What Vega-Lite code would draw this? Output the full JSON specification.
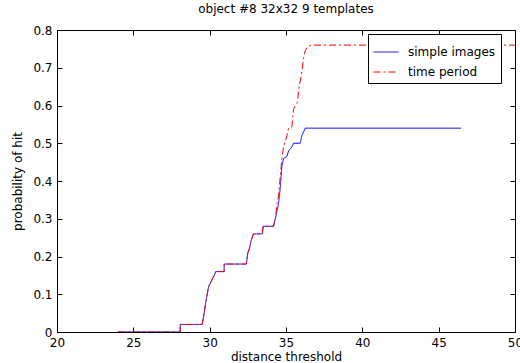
{
  "$schema": "https://vega.github.io/schema/vega-lite/v6.json",
  "width": 458,
  "height": 302,
  "autosize": {"type": "none"},
  "padding": {"left": 57, "top": 30, "right": 5, "bottom": 31},
  "background": "white",
  "title": {"text": "object #8 32x32 9 templates", "fontSize": 12, "fontWeight": "normal", "font": "DejaVu Sans", "offset": 8, "color": "#000"},
  "data": {"values": [
    {"s": "simple images", "i": 1, "x": 24.0, "y": 0},
    {"s": "simple images", "i": 2, "x": 28.07, "y": 0},
    {"s": "simple images", "i": 3, "x": 28.07, "y": 0.02},
    {"s": "simple images", "i": 4, "x": 29.5, "y": 0.02},
    {"s": "simple images", "i": 5, "x": 29.6, "y": 0.04},
    {"s": "simple images", "i": 6, "x": 29.75, "y": 0.08},
    {"s": "simple images", "i": 7, "x": 29.93, "y": 0.12},
    {"s": "simple images", "i": 8, "x": 30.05, "y": 0.13},
    {"s": "simple images", "i": 9, "x": 30.17, "y": 0.14},
    {"s": "simple images", "i": 10, "x": 30.3, "y": 0.15},
    {"s": "simple images", "i": 11, "x": 30.4, "y": 0.16},
    {"s": "simple images", "i": 12, "x": 30.95, "y": 0.16},
    {"s": "simple images", "i": 13, "x": 30.95, "y": 0.18},
    {"s": "simple images", "i": 14, "x": 32.4, "y": 0.18},
    {"s": "simple images", "i": 15, "x": 32.5, "y": 0.21},
    {"s": "simple images", "i": 16, "x": 32.6, "y": 0.22},
    {"s": "simple images", "i": 17, "x": 32.7, "y": 0.24},
    {"s": "simple images", "i": 18, "x": 32.87, "y": 0.26},
    {"s": "simple images", "i": 19, "x": 33.45, "y": 0.26},
    {"s": "simple images", "i": 20, "x": 33.5, "y": 0.28},
    {"s": "simple images", "i": 21, "x": 34.18, "y": 0.28},
    {"s": "simple images", "i": 22, "x": 34.3, "y": 0.30},
    {"s": "simple images", "i": 23, "x": 34.41, "y": 0.32},
    {"s": "simple images", "i": 24, "x": 34.51, "y": 0.34},
    {"s": "simple images", "i": 25, "x": 34.62, "y": 0.38},
    {"s": "simple images", "i": 26, "x": 34.73, "y": 0.44},
    {"s": "simple images", "i": 27, "x": 34.84, "y": 0.46},
    {"s": "simple images", "i": 28, "x": 35.06, "y": 0.465},
    {"s": "simple images", "i": 29, "x": 35.17, "y": 0.48},
    {"s": "simple images", "i": 30, "x": 35.39, "y": 0.49},
    {"s": "simple images", "i": 31, "x": 35.49, "y": 0.50},
    {"s": "simple images", "i": 32, "x": 35.93, "y": 0.50},
    {"s": "simple images", "i": 33, "x": 36.04, "y": 0.52},
    {"s": "simple images", "i": 34, "x": 36.26, "y": 0.54},
    {"s": "simple images", "i": 35, "x": 46.46, "y": 0.54},
    {"s": "time period", "i": 1, "x": 24.0, "y": 0},
    {"s": "time period", "i": 2, "x": 28.07, "y": 0},
    {"s": "time period", "i": 3, "x": 28.07, "y": 0.02},
    {"s": "time period", "i": 4, "x": 29.5, "y": 0.02},
    {"s": "time period", "i": 5, "x": 29.6, "y": 0.04},
    {"s": "time period", "i": 6, "x": 29.75, "y": 0.08},
    {"s": "time period", "i": 7, "x": 29.93, "y": 0.12},
    {"s": "time period", "i": 8, "x": 30.05, "y": 0.13},
    {"s": "time period", "i": 9, "x": 30.17, "y": 0.14},
    {"s": "time period", "i": 10, "x": 30.3, "y": 0.15},
    {"s": "time period", "i": 11, "x": 30.4, "y": 0.16},
    {"s": "time period", "i": 12, "x": 30.95, "y": 0.16},
    {"s": "time period", "i": 13, "x": 30.95, "y": 0.18},
    {"s": "time period", "i": 14, "x": 32.4, "y": 0.18},
    {"s": "time period", "i": 15, "x": 32.5, "y": 0.21},
    {"s": "time period", "i": 16, "x": 32.6, "y": 0.22},
    {"s": "time period", "i": 17, "x": 32.7, "y": 0.24},
    {"s": "time period", "i": 18, "x": 32.87, "y": 0.26},
    {"s": "time period", "i": 19, "x": 33.45, "y": 0.26},
    {"s": "time period", "i": 20, "x": 33.5, "y": 0.28},
    {"s": "time period", "i": 21, "x": 34.18, "y": 0.28},
    {"s": "time period", "i": 22, "x": 34.3, "y": 0.30},
    {"s": "time period", "i": 23, "x": 34.41, "y": 0.34},
    {"s": "time period", "i": 24, "x": 34.51, "y": 0.36},
    {"s": "time period", "i": 25, "x": 34.62, "y": 0.41},
    {"s": "time period", "i": 26, "x": 34.73, "y": 0.46},
    {"s": "time period", "i": 27, "x": 34.84, "y": 0.49},
    {"s": "time period", "i": 28, "x": 35.06, "y": 0.52},
    {"s": "time period", "i": 29, "x": 35.17, "y": 0.54},
    {"s": "time period", "i": 30, "x": 35.39, "y": 0.544},
    {"s": "time period", "i": 31, "x": 35.49, "y": 0.59},
    {"s": "time period", "i": 32, "x": 35.76, "y": 0.61},
    {"s": "time period", "i": 33, "x": 35.82, "y": 0.64},
    {"s": "time period", "i": 34, "x": 36.04, "y": 0.69},
    {"s": "time period", "i": 35, "x": 36.15, "y": 0.725},
    {"s": "time period", "i": 36, "x": 36.26, "y": 0.745},
    {"s": "time period", "i": 37, "x": 36.41, "y": 0.756},
    {"s": "time period", "i": 38, "x": 36.7, "y": 0.76},
    {"s": "time period", "i": 39, "x": 50, "y": 0.76}
  ]},
  "layer": [
    {
      "mark": {"type": "line", "strokeWidth": 1, "clip": true},
      "encoding": {
        "x": {"field": "x", "type": "quantitative",
          "scale": {"domain": [20, 50], "nice": false, "zero": false},
          "axis": {"orient": "bottom", "values": [20, 25, 30, 35, 40, 45, 50], "title": "distance threshold", "titlePadding": 3}},
        "y": {"field": "y", "type": "quantitative",
          "scale": {"domain": [0, 0.8], "nice": false},
          "axis": {"orient": "left", "values": [0, 0.1, 0.2, 0.3, 0.4, 0.5, 0.6, 0.7, 0.8], "title": "probability of hit", "titlePadding": 8,
            "labelExpr": "datum.value == 0 ? '0' : format(datum.value, '.1f')"}},
        "color": {"field": "s", "type": "nominal",
          "scale": {"domain": ["simple images", "time period"], "range": ["#0000ff", "#ff0000"]},
          "legend": {"orient": "none", "legendX": 311, "legendY": 4, "title": null}},
        "strokeDash": {"field": "s", "type": "nominal",
          "scale": {"domain": ["simple images", "time period"], "range": [[1, 0], [7, 3, 2, 3]]},
          "legend": {"orient": "none", "legendX": 311, "legendY": 4, "title": null}},
        "order": {"field": "i", "type": "quantitative"}
      }
    },
    {
      "mark": {"type": "line", "opacity": 0},
      "encoding": {
        "x": {"field": "x", "type": "quantitative",
          "axis": {"orient": "top", "values": [20, 25, 30, 35, 40, 45, 50], "labels": false, "title": null}},
        "y": {"field": "y", "type": "quantitative",
          "axis": {"orient": "right", "values": [0, 0.1, 0.2, 0.3, 0.4, 0.5, 0.6, 0.7, 0.8], "labels": false, "title": null}},
        "detail": {"field": "s"},
        "order": {"field": "i", "type": "quantitative"}
      }
    }
  ],
  "resolve": {"axis": {"x": "independent", "y": "independent"}},
  "config": {
    "view": {"stroke": null},
    "axis": {
      "grid": false, "domain": true, "domainColor": "#000", "domainWidth": 1,
      "ticks": true, "tickColor": "#000", "tickSize": -5, "tickWidth": 1,
      "labelPadding": 10, "labelFont": "DejaVu Sans", "labelFontSize": 12, "labelColor": "#000",
      "titleFont": "DejaVu Sans", "titleFontSize": 12, "titleFontWeight": "normal", "titleColor": "#000",
      "labelFlush": false, "labelOverlap": false
    },
    "legend": {
      "fillColor": "white", "strokeColor": "#000", "padding": 5,
      "symbolType": "stroke", "symbolSize": 625, "symbolStrokeWidth": 1,
      "labelFont": "DejaVu Sans", "labelFontSize": 12, "labelColor": "#000",
      "labelOffset": 9, "rowPadding": 1
    }
  }
}
